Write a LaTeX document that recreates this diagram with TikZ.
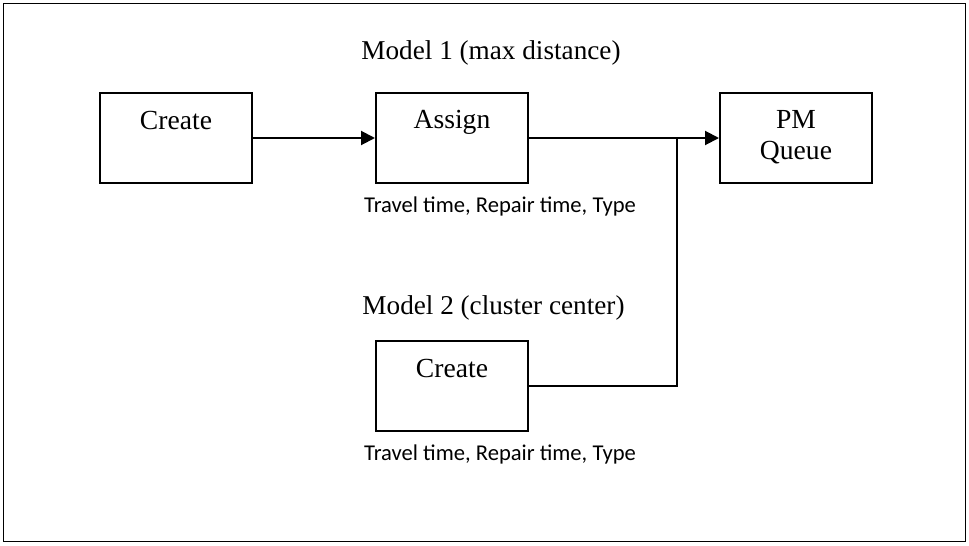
\documentclass[tikz,border=0pt]{standalone}
\usepackage{fontspec}
\setmainfont{Liberation Serif}
\newfontfamily\lblfont{Carlito}
\usetikzlibrary{arrows.meta}
\begin{document}
\begin{tikzpicture}[x=0.5pt,y=-0.5pt,
  box/.style={draw, line width=1pt, minimum width=76pt, minimum height=45pt, inner sep=0pt},
  boxtext/.style={font=\fontsize{13.8}{16}\selectfont, inner sep=0pt, anchor=base},
  title/.style={font=\fontsize{13.6}{16}\selectfont, inner sep=0pt, anchor=base},
  note/.style={font=\lblfont\fontsize{11.3}{13}\selectfont, inner sep=0pt, anchor=base},
  conn/.style={line width=1pt},
  arr/.style={conn, -{Triangle[length=7pt,width=7pt]}}]
\useasboundingbox (0,0) rectangle (969,546);
\draw[line width=0.8pt] (3.5,3.5) rectangle (965.5,541.5);

\node[box] (create1) at (176,138) {};
\node[box] (assign) at (452,138) {};
\node[box] (pm) at (796,138) {};
\node[box] (create2) at (452,386) {};

\node[boxtext] (t1) at (176,129) {Create};
\node[boxtext] (t2) at (452,128) {Assign};
\node[boxtext] (t3a) at (796,128) {PM};
\node[boxtext] (t3b) at (796,159) {Queue};
\node[boxtext] (t4) at (452,377) {Create};

\node[title] (m1) at (491,59) {Model 1 (max distance)};
\node[title] (m2) at (493.5,314) {Model 2 (cluster center)};

\node[note] (n1) at (500,212) {Travel time, Repair time, Type};
\node[note] (n2) at (500,460) {Travel time, Repair time, Type};

\coordinate (j) at (677,138);
\draw[arr] (create1.east) -- (assign.west);
\draw[arr] (assign.east) -- (pm.west);
\draw[conn] (create2.east) -| (j);
\end{tikzpicture}
\end{document}
